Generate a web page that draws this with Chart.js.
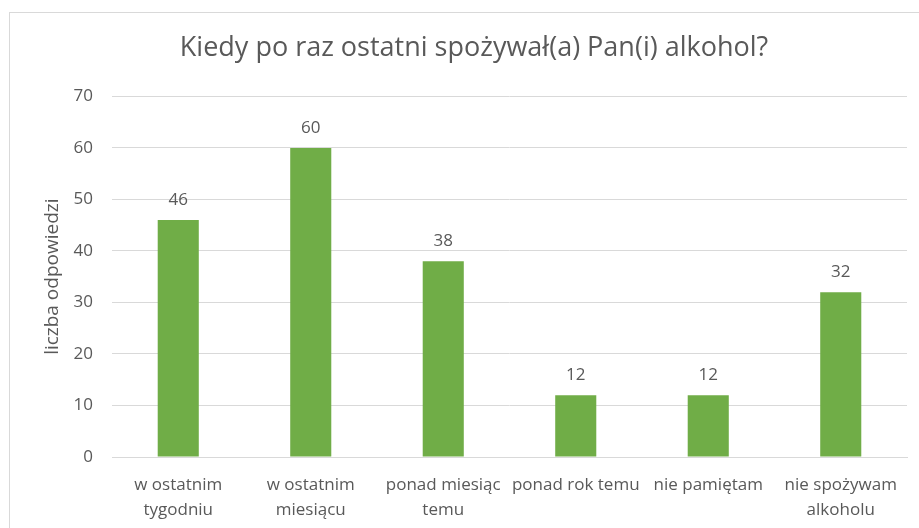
<!DOCTYPE html>
<html>
<head>
<meta charset="utf-8">
<script src="https://cdn.jsdelivr.net/npm/chart.js@4"></script>
<style>
  html, body { margin: 0; padding: 0; background: #fff; }
  #wrap { position: relative; width: 919px; height: 528px; overflow: hidden; }
  #frame { position: absolute; left: 9px; top: 12px; width: 920px; height: 530px; border: 1px solid #d9d9d9; box-sizing: border-box; }
  #chart { position: absolute; left: 0; top: 0; }
</style>
</head>
<body>
<div id="wrap">
  <div id="frame"></div>
  <canvas id="chart" width="919" height="528"></canvas>
</div>
<script>
// Chart data
const categories = [
  ['w ostatnim', 'tygodniu'],
  ['w ostatnim', 'miesiącu'],
  ['ponad miesiąc', 'temu'],
  'ponad rok temu',
  'nie pamiętam',
  ['nie spożywam', 'alkoholu'],
];
const answers = [46, 60, 38, 12, 12, 32];
const yTicks = [0, 10, 20, 30, 40, 50, 60, 70];

const textColor = '#595959';
const fontFamily = '"Open Sans", "Noto Sans", sans-serif';

// Draw value labels above bars
const valueLabels = {
  id: 'valueLabels',
  afterDatasetsDraw(chart) {
    const { ctx } = chart;
    const meta = chart.getDatasetMeta(0);
    ctx.save();
    ctx.fillStyle = textColor;
    ctx.font = `17px ${fontFamily}`;
    ctx.textAlign = 'center';
    ctx.textBaseline = 'middle';
    meta.data.forEach((bar, i) => {
      ctx.fillText(answers[i], bar.x, bar.y - 20);
    });
    ctx.restore();
  },
};

const ctx = document.getElementById('chart');
// eslint-disable-next-line no-unused-vars
const chart = new Chart(ctx, {
  type: 'bar',
  data: {
    labels: categories,
    datasets: [{
      label: 'liczba odpowiedzi',
      data: answers,
      backgroundColor: '#70ad47',
      categoryPercentage: 1,
      barPercentage: 0.31,
    }],
  },
  options: {
    responsive: false,
    animation: false,
    layout: {
      padding: { top: 0, left: 41, right: 12, bottom: 0 },
    },
    scales: {
      y: {
        min: 0,
        max: 70,
        afterBuildTicks: (scale) => {
          scale.ticks = yTicks.map((v) => ({ value: v }));
        },
        afterFit: (scale) => { scale.width = 71; },
        grid: { color: '#d9d9d9', drawTicks: false },
        border: { display: false },
        ticks: {
          color: textColor,
          font: { family: fontFamily, size: 17 },
          padding: 19,
        },
        title: {
          display: true,
          text: 'liczba odpowiedzi',
          color: textColor,
          font: { family: fontFamily, size: 19 },
          padding: 0,
        },
      },
      x: {
        afterFit: (scale) => { scale.height = 71; },
        grid: { display: false },
        border: { color: '#d9d9d9' },
        ticks: {
          color: textColor,
          font: { family: fontFamily, size: 17, lineHeight: 1.5 },
          maxRotation: 0,
          autoSkip: false,
          padding: 7,
        },
      },
    },
    plugins: {
      legend: { display: false },
      tooltip: { enabled: false },
      title: {
        display: true,
        text: 'Kiedy po raz ostatni spożywał(a) Pan(i) alkohol?',
        color: textColor,
        font: { family: fontFamily, size: 27, weight: 'normal' },
        padding: { top: 32, bottom: 32 },
      },
    },
  },
  plugins: [valueLabels],
});
</script>
</body>
</html>
